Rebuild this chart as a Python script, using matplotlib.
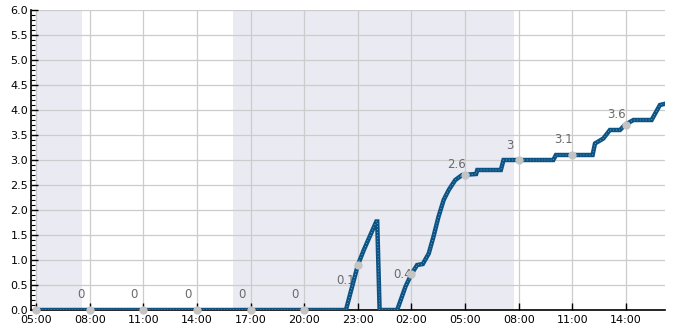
import pandas as pd
import matplotlib.pyplot as plt
import matplotlib.dates as mdates
from matplotlib.ticker import MultipleLocator

# cumulative series (time, value)
times = ['05:00', '22:20', '23:00', '23:20', '00:02', '00:05', '00:13', '01:12', '01:40',
         '02:00', '02:19', '02:38', '02:58', '03:14', '03:31', '03:48', '04:05', '04:27',
         '04:50', '05:37', '05:41', '07:00', '07:09', '09:56', '10:05', '12:08', '12:16',
         '12:44', '13:06', '13:40', '13:56', '14:25', '15:26', '15:54', '16:08']
days = [0, 0, 0, 0, 1, 1, 1, 1, 1, 1, 1, 1, 1, 1, 1, 1, 1, 1,
        1, 1, 1, 1, 1, 1, 1, 1, 1, 1, 1, 1, 1, 1, 1, 1, 1]
values = [0, 0, 0.9, 1.2, 1.77, 1.77, 0, 0, 0.47,
          0.72, 0.9, 0.92, 1.13, 1.47, 1.87, 2.2, 2.4, 2.6,
          2.7, 2.72, 2.8, 2.8, 3.0, 3.0, 3.1, 3.1, 3.33,
          3.43, 3.6, 3.6, 3.7, 3.8, 3.8, 4.1, 4.12]

# labelled points at every 3 hours
mark_times = ['05:00', '08:00', '11:00', '14:00', '17:00', '20:00', '23:00',
              '02:00', '05:00', '08:00', '11:00', '14:00']
mark_days = [0, 0, 0, 0, 0, 0, 0, 1, 1, 1, 1, 1]
mark_values = [0, 0, 0, 0, 0, 0, 0.9, 0.72, 2.7, 3.0, 3.1, 3.7]
mark_labels = ['', '0', '0', '0', '0', '0', '0.1', '0.4', '2.6', '3', '3.1', '3.6']
# label offsets from the point, in pixels
label_dx = [-9, -9, -9, -9, -9, -9, -12, -9, -9, -9, -9, -9]
label_dy = [16, 16, 16, 16, 16, 16, -15, 0, 11, 15, 16, 11]

# shaded periods
shade_start = [('05:00', 0), ('16:01', 0)]
shade_end = [('07:34', 0), ('07:44', 1)]

BASE = pd.Timestamp('2024-01-01')


def to_dt(t, d):
    return BASE + pd.Timedelta(days=d) + pd.Timedelta(t + ':00')


x = [to_dt(t, d) for t, d in zip(times, days)]
mx = [to_dt(t, d) for t, d in zip(mark_times, mark_days)]

fig = plt.figure(figsize=(6.85, 3.3), dpi=100)
ax = fig.add_axes([0.0453, 0.0606, 0.9255, 0.9091])

for (s, sd), (e, ed) in zip(shade_start, shade_end):
    ax.axvspan(to_dt(s, sd), to_dt(e, ed), color='#eaeaf2', zorder=0, lw=0)

ax.grid(True, color='#cccccc', lw=0.9, zorder=1)
ax.set_axisbelow(True)

ax.plot(x, values, color='#0b5384', lw=3.2, zorder=3, solid_joinstyle='miter')
ax.plot(x, values, color='white', lw=0.5, dashes=(0.8, 3.5), zorder=4)

ax.plot(mx, mark_values, 'o', color='#c4c4c4', ms=5, zorder=5, clip_on=False, lw=0)
for xi, yi, lab, dx, dy in zip(mx, mark_values, mark_labels, label_dx, label_dy):
    if lab:
        ax.annotate(lab, (xi, yi), xytext=(dx, dy), textcoords='offset pixels',
                    ha='center', va='center', fontsize=8.5, color='#6a6a6a', zorder=2)

ax.set_xlim(to_dt('04:43', 0), to_dt('16:11', 1))
ax.set_ylim(0, 6)
ax.xaxis.set_major_locator(mdates.HourLocator(byhour=range(2, 24, 3)))
ax.xaxis.set_major_formatter(mdates.DateFormatter('%H:%M'))
ax.yaxis.set_major_locator(MultipleLocator(0.5))
ax.yaxis.set_minor_locator(MultipleLocator(0.1))
ax.yaxis.set_major_formatter(lambda v, p: f'{v:.1f}')

ax.tick_params(axis='both', which='major', direction='in', length=5, width=1, labelsize=8, pad=2)
ax.tick_params(axis='x', which='major', pad=3.5)
ax.tick_params(axis='y', which='minor', direction='in', length=3, width=0.8)
for s in ['top', 'right']:
    ax.spines[s].set_visible(False)
for s in ['left', 'bottom']:
    ax.spines[s].set_color('black')
    ax.spines[s].set_linewidth(1.2)

fig.savefig('out.png', dpi=100)
